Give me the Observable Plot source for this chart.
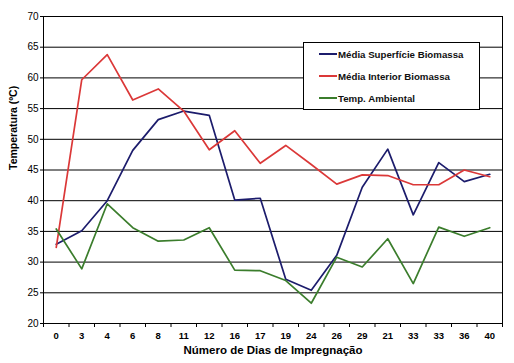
<!DOCTYPE html>
<html>
<head>
<meta charset="utf-8">
<script src="https://cdn.jsdelivr.net/npm/d3@7"></script>
<script src="https://cdn.jsdelivr.net/npm/@observablehq/plot@0.6"></script>
<style>
  html, body { margin: 0; padding: 0; background: white; }
  #wrap { position: relative; width: 514px; height: 363px; }
  #legend { position: absolute; left: 303px; top: 42px; width: 175px; height: 66px;
    border: 1px solid black; background: white; font-family: "Liberation Sans", Arial, sans-serif;
    font-size: 9.7px; font-weight: bold; color: #111; }
  .row { position: absolute; left: 15px; display: flex; align-items: center; height: 12px; }
  .sw { width: 18px; height: 2px; margin-right: 1px; }
</style>
</head>
<body>
<div id="wrap"></div>
<script>
const categories = ["0","3","4","6","8","11","12","16","17","19","24","26","29","21","33","33","36","40"];
const superficie = [32.9,35.1,40.0,48.2,53.2,54.6,53.9,40.1,40.4,27.2,25.4,31.1,42.2,48.4,37.7,46.2,43.1,44.3];
const interior   = [32.4,59.7,63.8,56.4,58.2,54.6,48.3,51.4,46.1,49.0,45.9,42.7,44.2,44.1,42.6,42.6,45.0,43.9];
const ambiente   = [35.4,28.9,39.5,35.6,33.4,33.6,35.6,28.7,28.6,27.0,23.3,30.8,29.2,33.8,26.5,35.7,34.2,35.6];
const yTicks = [20,25,30,35,40,45,50,55,60,65,70];
const seriesNames = ["Média Superfície Biomassa","Média Interior Biomassa","Temp. Ambiental"];
const colors = ["#1c1c6c","#db3838","#3b7d2c"];

const n = categories.length;
const idx = d3.range(n);
const bounds = d3.range(n + 1).map(i => i - 0.5);
const font = "'Liberation Sans', Arial, sans-serif";

const chart = Plot.plot({
  width: 514, height: 363,
  marginLeft: 43, marginRight: 12, marginTop: 16, marginBottom: 40,
  style: { fontFamily: font, fontSize: "10px", background: "white", color: "black" },
  x: { type: "linear", domain: [-0.5, n - 0.5] },
  y: { domain: [20, 70] },
  marks: [
    Plot.ruleY(yTicks, { stroke: "black", strokeWidth: 1, strokeOpacity: 1 }),
    Plot.ruleX([-0.5, n - 0.5], { stroke: "black", strokeWidth: 1 }),
    Plot.axisY({ ticks: yTicks, tickSize: 3, tickPadding: 2, label: null, fontSize: 10 }),
    Plot.axisX({ ticks: bounds, tickSize: 4, tickFormat: () => "", label: null }),
    Plot.axisX({ ticks: idx, tickSize: 0, tickPadding: 9, tickFormat: i => categories[i], label: null, fontWeight: "bold", fontSize: 9.5 }),
    Plot.line(superficie, { x: (d, i) => i, y: d => d, stroke: colors[0], strokeWidth: 1.7 }),
    Plot.line(interior, { x: (d, i) => i, y: d => d, stroke: colors[1], strokeWidth: 1.7 }),
    Plot.line(ambiente, { x: (d, i) => i, y: d => d, stroke: colors[2], strokeWidth: 1.7 }),
    Plot.text(["Temperatura (ºC)"], { frameAnchor: "left", dx: -30, rotate: -90, text: d => d, fontWeight: "bold", fontSize: 10.5 }),
    Plot.text(["Número de Dias de Impregnação"], { frameAnchor: "bottom", dy: 30, text: d => d, fontWeight: "bold", fontSize: 11.5 })
  ]
});
const wrap = document.getElementById("wrap");
wrap.appendChild(chart);

const legend = document.createElement("div");
legend.id = "legend";
seriesNames.forEach((name, i) => {
  const row = document.createElement("div");
  row.className = "row";
  row.style.top = (5 + i * 22) + "px";
  const sw = document.createElement("span");
  sw.className = "sw";
  sw.style.background = colors[i];
  row.appendChild(sw);
  const t = document.createElement("span");
  t.textContent = name;
  row.appendChild(t);
  legend.appendChild(row);
});
wrap.appendChild(legend);
</script>
</body>
</html>
